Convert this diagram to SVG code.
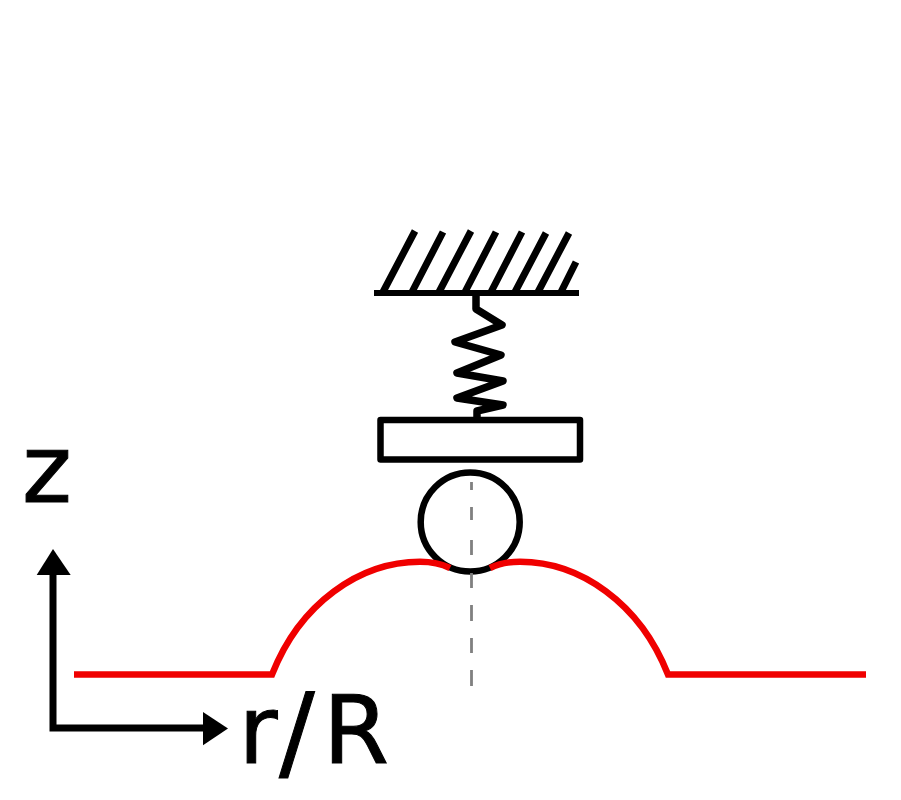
<svg xmlns="http://www.w3.org/2000/svg" width="901" height="800" viewBox="0 0 901 800">
<style>
.k{fill:none;stroke:#000;stroke-width:6}
.h{fill:none;stroke:#000;stroke-width:7}
.s{fill:none;stroke:#000;stroke-width:7.5}
.r{fill:none;stroke:#f00000;stroke-width:6.5}
.t{font-family:"DejaVu Sans",sans-serif;font-size:95px;fill:#000;stroke:#000;stroke-width:1}
</style>
<rect width="901" height="800" fill="#fff"/>
<g id="ground">
<path class="h" d="M383 292L415 231M412 292L443 232M439 292L471 231M465 292L496 232M491 292L522 232M515 292L546 233M538 292L569 233M561 292L576 262"/>
<path class="k" d="M374 293H579"/>
</g>
<g id="spring"><path class="s" stroke-linejoin="round" d="M476 295V309L502 325L455 342L501 355L457 373L503 381L457 398L503 405L477 411V420"/></g>
<g id="plate"><rect class="k" style="stroke-width:6.5" x="380.5" y="420" width="199.5" height="39.5" stroke-linejoin="round"/></g>
<g id="ball"><circle class="k" style="stroke-width:6.5" cx="470.2" cy="522" r="49.5"/></g>
<g id="surface">
<path class="r" d="M74 674.5H272C300 603 360 561.7 420 561.7C430 561.7 440 563 450 568"/>
<path class="r" d="M866 674.5H668C640 603 580 561.7 520 561.7C510 561.7 500 563 490 568"/>
</g>
<g id="axis">
<path d="M471.5 482V490M471.5 507V520M471.5 540V555M471.5 573V588M471.5 605V621M471.5 638V653M471.5 670V686" fill="none" stroke="#808080" stroke-width="2.8"/>
</g>
<g id="connectors">
<path class="k" style="stroke-width:7" d="M53 575V728H205"/>
<path d="M53 549L70.7 575H36.7Z"/>
<path d="M228 728.5L203 712V745.3Z"/>
</g>
<g id="label-z"><text class="t" x="22" y="502">z</text></g>
<g id="label-r"><text class="t" x="238.5" y="763">r<tspan x="279" y="768" style="font-size:106px">/</tspan><tspan x="323" y="763">R</tspan></text></g>
</svg>
